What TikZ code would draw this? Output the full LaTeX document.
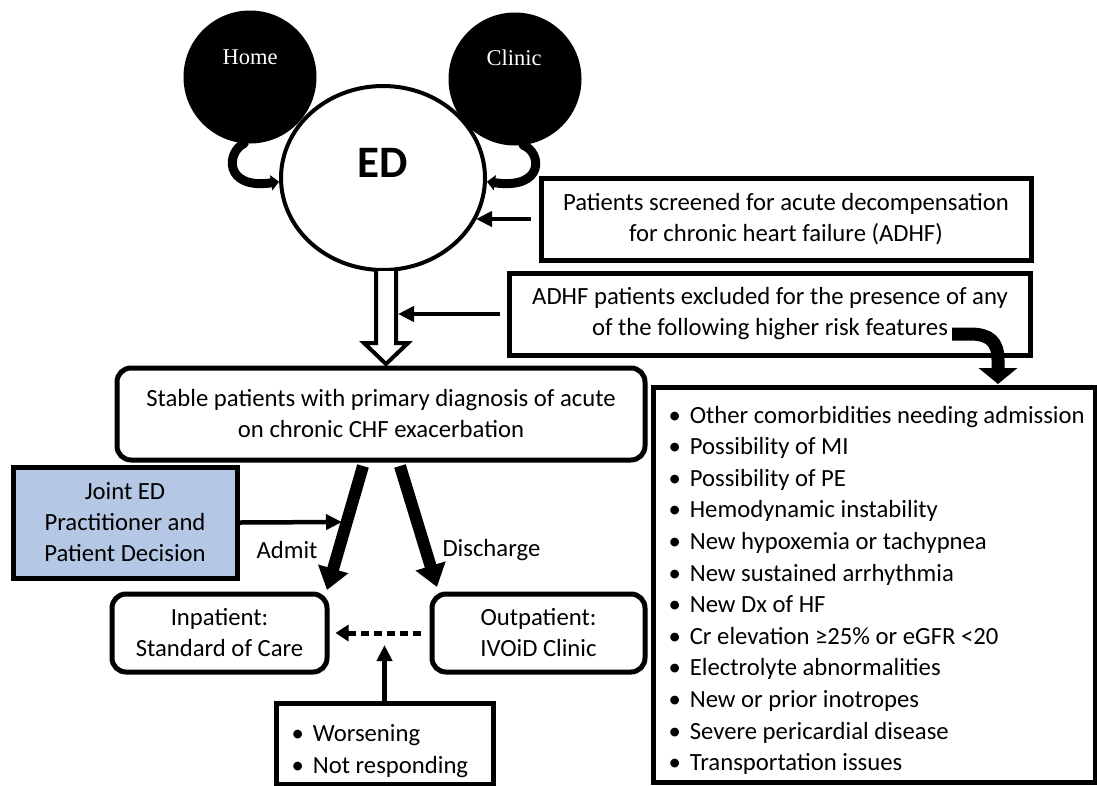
\documentclass[tikz,border=0pt]{standalone}
\usepackage{fontspec}
\setmainfont{Carlito}
\newfontfamily\tnr{Liberation Serif}
\usetikzlibrary{arrows.meta,shapes.geometric}
\definecolor{jointblue}{RGB}{180,199,228}
\begin{document}
\begin{tikzpicture}[x=1pt,y=-1pt,
  txt/.style={font=\fontsize{24.7}{31}\selectfont, align=center},
  box/.style={draw, line width=5pt, txt, inner sep=0pt},
  rbox/.style={box, rounded corners=14pt},
  arr/.style={line width=4.5pt, -{Triangle[length=16pt,width=15pt]}},
  bigarr/.style={line width=12pt, -{Triangle[length=22pt,width=30pt]}},
  hookarr/.style={line width=9pt, line cap=round, -{Triangle[length=8pt,width=15pt]}},
  blob/.style={circle, fill=black, minimum size=133pt, inner sep=0pt},
  blobtxt/.style={text=white, font=\tnr\fontsize{22.5}{26}\selectfont},
  item/.style={anchor=base west, font=\fontsize{24.7}{31}\selectfont}
]
\useasboundingbox (0,0) rectangle (1097,785);

% Home / Clinic / ED
\node[blob] (home) at (250,77) {};
\node[blob] (clinic) at (515,79) {};
\node[blobtxt] (homet) at (250,57) {Home};
\node[blobtxt] (clinict) at (514,58) {Clinic};
\node[ellipse, draw, line width=4pt, fill=white, minimum width=204pt, minimum height=184pt, inner sep=0pt] (ed) at (383,178) {};
\node[font=\bfseries\fontsize{45}{50}\selectfont] (edt) at (383,163) {ED};
\draw[hookarr] (home.-95) .. controls (226,152) and (224,190) .. (ed.182);
\draw[hookarr] (clinic.-83) .. controls (542,152) and (545,190) .. (ed.-2);

% screening boxes
\node[box, minimum width=490pt, minimum height=82pt] (scr) at (786,219)
  {Patients screened for acute decompensation\\for chronic heart failure (ADHF)};
\node[box, minimum width=521pt, minimum height=82pt] (exc) at (770,314)
  {ADHF patients excluded for the presence of any\\of the following higher risk features};
\coordinate (edr) at (476,219);
\draw[arr, shorten <=8pt] (scr.west) -- (edr);

% hollow arrow
\draw[line width=4pt, fill=white] (376,271) -- (376,343) -- (364,343) -- (386,364)
  -- (408,343) -- (396,343) -- (396,271);
\coordinate (hs) at (398,314);
\draw[arr, shorten <=7pt] (exc.west) -- (hs);

% stable
\node[rbox, minimum width=528pt, minimum height=92pt] (stab) at (381,414)
  {Stable patients with primary diagnosis of acute\\on chronic CHF exacerbation};

% features
\node[draw, line width=5pt, minimum width=442pt, minimum height=395pt, inner sep=0pt] (feat) at (874,584.5) {};
\foreach \t [count=\i from 0] in {Other comorbidities needing admission,
  Possibility of MI, Possibility of PE, Hemodynamic instability,
  New hypoxemia or tachypnea, New sustained arrhythmia, New Dx of HF,
  Cr elevation ≥25\% or eGFR <20, Electrolyte abnormalities,
  New or prior inotropes, Severe pericardial disease, Transportation issues}
  \node[item] (f\i) at (665,{423+31.6*\i}) {\textbullet\hspace{9pt}\t};

% curved arrow
\coordinate (ca) at (952,334);
\coordinate (cb) at (998,384);
\draw[line width=13pt, -{Triangle[length=16pt,width=38pt]}] (ca) -- (970,334)
  .. controls (990,334) and (998,342) .. (998,360) -- (cb);

% decision
\node[box, fill=jointblue, minimum width=224pt, minimum height=111pt] (joint) at (125,522.5)
  {Joint ED\\Practitioner and\\Patient Decision};
\node[rbox, minimum width=215pt, minimum height=78pt] (inp) at (219.5,633)
  {Inpatient:\\Standard of Care};
\node[rbox, minimum width=213pt, minimum height=78pt] (outp) at (538.5,633)
  {Outpatient:\\IVOiD Clinic};

\coordinate (admtop) at (363,466);
\coordinate (admend) at (327,590);
\coordinate (distop) at (400,466);
\coordinate (disend) at (437,587);
\draw[bigarr] (admtop) -- (admend);
\draw[bigarr] (distop) -- (disend);
\node[txt] (admitl) at (287,550) {Admit};
\node[txt, anchor=west] (disl) at (439,550) {Discharge};

\coordinate (jt) at (342,522);
\draw[arr] (joint.east) -- (jt);

\draw[line width=5pt, dash pattern=on 8pt off 5pt, shorten <=9pt, shorten >=6pt,
  -{Triangle[length=13pt,width=16pt]}] (outp.west) -- (inp.east);

% worsening
\node[box, minimum width=217pt, minimum height=81pt] (wor) at (384.5,743.5) {};
\node[item] (w1) at (288,741) {\textbullet\hspace{9pt}Worsening};
\node[item] (w2) at (288,773) {\textbullet\hspace{9pt}Not responding};
\coordinate (wt) at (384.5,645);
\draw[arr, line width=5pt] (wor.north) -- (wt);
\end{tikzpicture}
\end{document}
